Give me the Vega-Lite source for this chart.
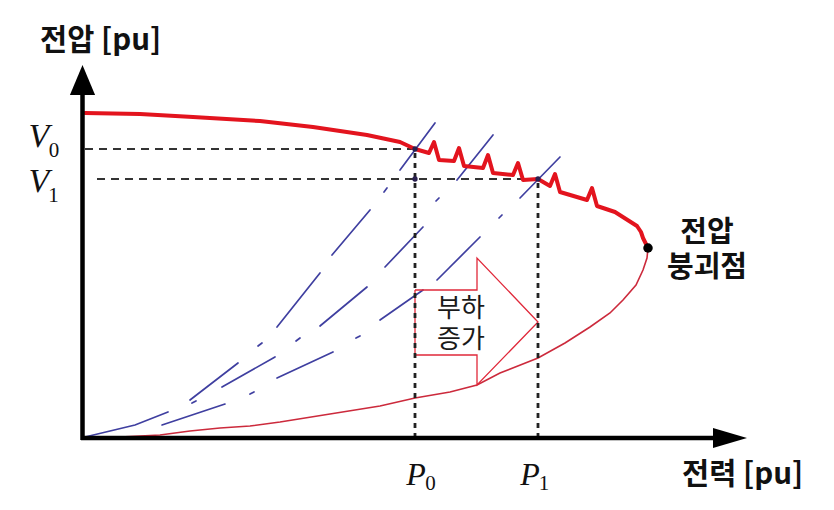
{
  "$schema": "https://vega.github.io/schema/vega-lite/v6.json",
  "width": 834,
  "height": 510,
  "autosize": {"type": "none"},
  "padding": 0,
  "background": "white",
  "config": {"view": {"stroke": null}},
  "datasets": {
    "axes": [
      {"x": -0.025, "y": -0.02, "x2": -0.025, "y2": 3.46},
      {"x": -0.04, "y": 0, "x2": 6.3, "y2": 0}
    ],
    "heads": [
      {"x": -0.025, "y": 3.58, "dir": "up"},
      {"x": 6.45, "y": 0, "dir": "right"}
    ],
    "hdash": [
      {"x": 0.0, "x2": 3.3, "y": 2.89},
      {"x": 0.12, "x2": 4.53, "y": 2.59}
    ],
    "vdot": [
      {"x": 3.3, "y": 0, "y2": 2.89},
      {"x": 4.53, "y": 0, "y2": 2.59}
    ],
    "upper": [
      {"i": 1, "x": 0.0, "y": 3.25}, {"i": 2, "x": 0.55, "y": 3.24}, {"i": 3, "x": 1.08, "y": 3.21},
      {"i": 4, "x": 1.75, "y": 3.17}, {"i": 5, "x": 2.28, "y": 3.11}, {"i": 6, "x": 2.82, "y": 3.03},
      {"i": 7, "x": 3.15, "y": 2.96}, {"i": 8, "x": 3.3, "y": 2.89},
      {"i": 9, "x": 3.44, "y": 2.85}, {"i": 10, "x": 3.49, "y": 2.96}, {"i": 11, "x": 3.54, "y": 2.78},
      {"i": 12, "x": 3.69, "y": 2.77}, {"i": 13, "x": 3.74, "y": 2.9}, {"i": 14, "x": 3.79, "y": 2.72},
      {"i": 15, "x": 3.98, "y": 2.7}, {"i": 16, "x": 4.03, "y": 2.83}, {"i": 17, "x": 4.08, "y": 2.65},
      {"i": 18, "x": 4.28, "y": 2.63}, {"i": 19, "x": 4.33, "y": 2.75}, {"i": 20, "x": 4.38, "y": 2.58},
      {"i": 21, "x": 4.53, "y": 2.59},
      {"i": 22, "x": 4.65, "y": 2.52}, {"i": 23, "x": 4.7, "y": 2.64}, {"i": 24, "x": 4.75, "y": 2.46},
      {"i": 25, "x": 5.02, "y": 2.38}, {"i": 26, "x": 5.07, "y": 2.5}, {"i": 27, "x": 5.12, "y": 2.32},
      {"i": 28, "x": 5.3, "y": 2.26}, {"i": 29, "x": 5.52, "y": 2.12}, {"i": 30, "x": 5.56, "y": 2.06},
      {"i": 31, "x": 5.58, "y": 2.0}, {"i": 32, "x": 5.63, "y": 1.9}
    ],
    "lower": [
      {"i": 1, "x": 0.0, "y": 0.0}, {"i": 2, "x": 0.35, "y": 0.01}, {"i": 3, "x": 0.75, "y": 0.03},
      {"i": 4, "x": 1.05, "y": 0.07}, {"i": 5, "x": 1.35, "y": 0.1}, {"i": 6, "x": 1.65, "y": 0.12},
      {"i": 7, "x": 1.95, "y": 0.16}, {"i": 8, "x": 2.45, "y": 0.24}, {"i": 9, "x": 2.95, "y": 0.32},
      {"i": 10, "x": 3.3, "y": 0.4}, {"i": 11, "x": 3.65, "y": 0.46}, {"i": 12, "x": 3.92, "y": 0.53},
      {"i": 13, "x": 4.15, "y": 0.65}, {"i": 14, "x": 4.53, "y": 0.8}, {"i": 15, "x": 4.8, "y": 0.95},
      {"i": 16, "x": 5.05, "y": 1.11}, {"i": 17, "x": 5.25, "y": 1.25}, {"i": 18, "x": 5.38, "y": 1.38},
      {"i": 19, "x": 5.51, "y": 1.53}, {"i": 20, "x": 5.58, "y": 1.68}, {"i": 21, "x": 5.62, "y": 1.8},
      {"i": 22, "x": 5.63, "y": 1.9}
    ],
    "load": [
      {"seg": "A0", "i": 1, "x": 0.0, "y": 0.01}, {"seg": "A0", "i": 2, "x": 0.25, "y": 0.07},
      {"seg": "A0", "i": 3, "x": 0.5, "y": 0.13}, {"seg": "A0", "i": 4, "x": 0.83, "y": 0.26},
      {"seg": "A1", "i": 1, "x": 1.05, "y": 0.38}, {"seg": "A1", "i": 2, "x": 1.53, "y": 0.75},
      {"seg": "A2", "i": 1, "x": 1.73, "y": 0.92}, {"seg": "A2", "i": 2, "x": 1.77, "y": 0.95},
      {"seg": "A3", "i": 1, "x": 1.92, "y": 1.11}, {"seg": "A3", "i": 2, "x": 2.35, "y": 1.65},
      {"seg": "A4", "i": 1, "x": 2.47, "y": 1.83}, {"seg": "A4", "i": 2, "x": 2.85, "y": 2.28},
      {"seg": "A5", "i": 1, "x": 2.99, "y": 2.46}, {"seg": "A5", "i": 2, "x": 3.02, "y": 2.5},
      {"seg": "A6", "i": 1, "x": 3.15, "y": 2.68}, {"seg": "A6", "i": 2, "x": 3.5, "y": 3.15},
      {"seg": "B1", "i": 1, "x": 1.07, "y": 0.35}, {"seg": "B1", "i": 2, "x": 1.11, "y": 0.37},
      {"seg": "B2", "i": 1, "x": 1.37, "y": 0.51}, {"seg": "B2", "i": 2, "x": 1.9, "y": 0.81},
      {"seg": "B3", "i": 1, "x": 2.11, "y": 0.97}, {"seg": "B3", "i": 2, "x": 2.15, "y": 1.0},
      {"seg": "B4", "i": 1, "x": 2.35, "y": 1.12}, {"seg": "B4", "i": 2, "x": 2.82, "y": 1.51},
      {"seg": "B5", "i": 1, "x": 3.0, "y": 1.71}, {"seg": "B5", "i": 2, "x": 3.38, "y": 2.11},
      {"seg": "B6", "i": 1, "x": 3.51, "y": 2.37}, {"seg": "B6", "i": 2, "x": 3.54, "y": 2.4},
      {"seg": "B7", "i": 1, "x": 3.72, "y": 2.58}, {"seg": "B7", "i": 2, "x": 4.08, "y": 3.03},
      {"seg": "C1", "i": 1, "x": 0.77, "y": 0.13}, {"seg": "C1", "i": 2, "x": 1.4, "y": 0.34},
      {"seg": "C2", "i": 1, "x": 1.65, "y": 0.44}, {"seg": "C2", "i": 2, "x": 1.69, "y": 0.46},
      {"seg": "C3", "i": 1, "x": 1.92, "y": 0.6}, {"seg": "C3", "i": 2, "x": 2.48, "y": 0.86},
      {"seg": "C4", "i": 1, "x": 2.71, "y": 1.0}, {"seg": "C4", "i": 2, "x": 2.75, "y": 1.02},
      {"seg": "C5", "i": 1, "x": 2.95, "y": 1.18}, {"seg": "C5", "i": 2, "x": 3.38, "y": 1.48},
      {"seg": "C6", "i": 1, "x": 3.52, "y": 1.58}, {"seg": "C6", "i": 2, "x": 3.95, "y": 2.01},
      {"seg": "C7", "i": 1, "x": 4.14, "y": 2.2}, {"seg": "C7", "i": 2, "x": 4.17, "y": 2.23},
      {"seg": "C8", "i": 1, "x": 4.35, "y": 2.4}, {"seg": "C8", "i": 2, "x": 4.75, "y": 2.81}
    ],
    "arrow": [
      {"i": 1, "x": 3.3, "y": 1.48}, {"i": 2, "x": 3.92, "y": 1.48}, {"i": 3, "x": 3.92, "y": 1.8},
      {"i": 4, "x": 4.53, "y": 1.16}, {"i": 5, "x": 3.92, "y": 0.53}, {"i": 6, "x": 3.92, "y": 0.83},
      {"i": 7, "x": 3.3, "y": 0.83}, {"i": 8, "x": 3.3, "y": 1.48}
    ],
    "cross": [
      {"x": 3.3, "y": 2.59}, {"x": 4.53, "y": 2.59}, {"x": 3.3, "y": 2.89}
    ],
    "nose": [{"x": 5.63, "y": 1.9}],
    "titles": [
      {"x": -0.45, "y": 3.97, "text": "전압 [pu]"},
      {"x": 5.97, "y": -0.37, "text": "전력 [pu]"}
    ],
    "noselabel": [
      {"x": 6.22, "y": 2.05, "text": ["전압", "붕괴점"]}
    ],
    "arrowlabel": [
      {"x": 3.76, "y": 1.29, "text": ["부하", "증가"]}
    ],
    "vsym": [
      {"x": -0.46, "y": 2.91, "text": "V"},
      {"x": -0.46, "y": 2.46, "text": "V"}
    ],
    "psym": [
      {"x": 3.31, "y": -0.47, "text": "P"},
      {"x": 4.45, "y": -0.47, "text": "P"}
    ],
    "subs": [
      {"x": -0.31, "y": 2.81, "text": "0"},
      {"x": -0.315, "y": 2.36, "text": "1"},
      {"x": 3.455, "y": -0.52, "text": "0"},
      {"x": 4.59, "y": -0.52, "text": "1"}
    ]
  },
  "encoding": {
    "x": {"field": "x", "type": "quantitative", "scale": {"domain": [-0.85, 7.49], "nice": false, "zero": false}, "axis": null},
    "y": {"field": "y", "type": "quantitative", "scale": {"domain": [-0.72, 4.38], "nice": false, "zero": false}, "axis": null}
  },
  "layer": [
    {
      "data": {"name": "load"},
      "mark": {"type": "line", "color": "#3f3fa0", "strokeWidth": 1.7, "strokeCap": "round"},
      "encoding": {"detail": {"field": "seg"}, "order": {"field": "i", "type": "quantitative"}}
    },
    {
      "data": {"name": "lower"},
      "mark": {"type": "line", "color": "#cc2a3c", "strokeWidth": 1.6},
      "encoding": {"order": {"field": "i", "type": "quantitative"}}
    },
    {
      "data": {"name": "arrow"},
      "mark": {"type": "line", "color": "#e0283a", "strokeWidth": 1.3, "strokeJoin": "miter"},
      "encoding": {"order": {"field": "i", "type": "quantitative"}}
    },
    {
      "data": {"name": "hdash"},
      "mark": {"type": "rule", "color": "#333333", "strokeWidth": 2.2, "strokeDash": [8, 6]},
      "encoding": {"x2": {"field": "x2"}}
    },
    {
      "data": {"name": "vdot"},
      "mark": {"type": "rule", "color": "#222222", "strokeWidth": 2.8, "strokeDash": [5, 5]},
      "encoding": {"y2": {"field": "y2"}}
    },
    {
      "data": {"name": "upper"},
      "mark": {"type": "line", "color": "#e3141e", "strokeWidth": 4, "strokeJoin": "round", "strokeCap": "round"},
      "encoding": {"order": {"field": "i", "type": "quantitative"}}
    },
    {
      "data": {"name": "cross"},
      "mark": {"type": "point", "filled": true, "color": "#2a2050", "size": 28, "opacity": 1}
    },
    {
      "data": {"name": "axes"},
      "mark": {"type": "rule", "color": "#000000", "strokeWidth": 4.5},
      "encoding": {"x2": {"field": "x2"}, "y2": {"field": "y2"}}
    },
    {
      "data": {"name": "heads"},
      "mark": {"type": "point", "filled": true, "color": "#000000", "size": 1156, "opacity": 1, "strokeWidth": 0},
      "encoding": {
        "shape": {"field": "dir", "type": "nominal", "legend": null,
          "scale": {"domain": ["up", "right"], "range": ["M0,-0.88L0.74,0.88L-0.74,0.88Z", "M1,0L-1,0.59L-1,-0.59Z"]}}
      }
    },
    {
      "data": {"name": "nose"},
      "mark": {"type": "point", "filled": true, "color": "#000000", "size": 90, "opacity": 1}
    },
    {
      "data": {"name": "titles"},
      "mark": {"type": "text", "font": "Noto Sans CJK KR", "fontSize": 29.5, "fontWeight": "bold", "align": "left", "baseline": "middle", "color": "#111111"},
      "encoding": {"text": {"field": "text"}}
    },
    {
      "data": {"name": "noselabel"},
      "mark": {"type": "text", "font": "Noto Sans CJK KR", "fontSize": 29, "lineHeight": 35, "fontWeight": "bold", "align": "center", "baseline": "middle", "color": "#111111"},
      "encoding": {"text": {"field": "text"}}
    },
    {
      "data": {"name": "arrowlabel"},
      "mark": {"type": "text", "font": "Noto Sans CJK KR", "fontSize": 26, "lineHeight": 31, "fontWeight": "normal", "align": "center", "baseline": "middle", "color": "#1a1a1a"},
      "encoding": {"text": {"field": "text"}}
    },
    {
      "data": {"name": "vsym"},
      "mark": {"type": "text", "font": "Liberation Serif", "fontSize": 34, "fontStyle": "italic", "align": "center", "baseline": "alphabetic", "color": "#111111"},
      "encoding": {"text": {"field": "text"}}
    },
    {
      "data": {"name": "psym"},
      "mark": {"type": "text", "font": "Liberation Serif", "fontSize": 32, "fontStyle": "italic", "align": "center", "baseline": "alphabetic", "color": "#111111"},
      "encoding": {"text": {"field": "text"}}
    },
    {
      "data": {"name": "subs"},
      "mark": {"type": "text", "font": "Liberation Serif", "fontSize": 21, "align": "center", "baseline": "alphabetic", "color": "#111111"},
      "encoding": {"text": {"field": "text"}}
    }
  ]
}
